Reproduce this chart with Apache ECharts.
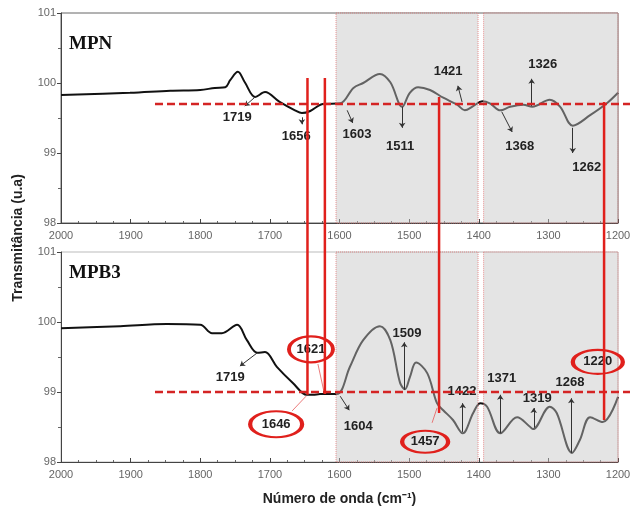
<!DOCTYPE html>
<html>
<head>
<meta charset="utf-8">
<script src="https://cdn.jsdelivr.net/npm/echarts@6/dist/echarts.min.js"></script>
<style>
  html, body { margin: 0; padding: 0; background: #fff; }
  #chart { width: 630px; height: 508px; }
</style>
</head>
<body>
<div id="chart"></div>
<script>
// spectra (wavenumber cm-1, transmittance u.a)
const mpnWavenumber = [2000, 1901, 1843, 1800, 1779, 1764, 1757, 1746, 1736, 1721, 1707, 1686, 1664, 1654, 1642, 1631, 1624, 1599, 1580, 1566, 1542, 1527, 1510, 1499, 1487, 1470, 1451, 1431, 1420, 1408, 1395, 1384, 1369, 1355, 1336, 1323, 1298, 1283, 1265, 1240, 1216, 1200]
const mpnTransmittance = [99.83, 99.86, 99.89, 99.90, 99.93, 99.94, 100.04, 100.16, 100.01, 99.80, 99.87, 99.73, 99.61, 99.57, 99.60, 99.67, 99.70, 99.71, 99.93, 100.00, 100.13, 100.01, 99.66, 99.86, 99.94, 99.90, 99.79, 99.69, 99.61, 99.67, 99.74, 99.71, 99.61, 99.66, 99.69, 99.66, 99.76, 99.66, 99.39, 99.54, 99.71, 99.86]

const mpb3Wavenumber = [2000, 1915, 1848, 1800, 1783, 1769, 1747, 1733, 1718, 1707, 1690, 1667, 1647, 1638, 1628, 1604, 1585, 1566, 1542, 1527, 1513, 1506, 1499, 1490, 1474, 1460, 1451, 1437, 1423, 1408, 1398, 1388, 1369, 1345, 1326, 1322, 1298, 1288, 1266, 1255, 1240, 1222, 1200]
const mpb3Transmittance = [99.91, 99.94, 99.97, 99.96, 99.84, 99.84, 99.96, 99.74, 99.56, 99.57, 99.36, 99.13, 98.96, 98.96, 98.97, 98.97, 99.36, 99.74, 99.94, 99.74, 99.13, 99.04, 99.21, 99.42, 99.27, 98.84, 98.74, 98.60, 98.41, 98.70, 98.84, 98.79, 98.41, 98.64, 98.50, 98.47, 98.79, 98.70, 98.13, 98.31, 98.64, 98.57, 98.93]

// axis ranges
const xMin = 1200, xMax = 2000, xStep = 100
const yMin = 98, yMax = 101, yStep = 1

// shaded bands and reference lines
const shadedBands = [[1605, 1401], [1393, 1200]]
const dashLevels = [99.7, 99.0]
const dashStart = 1865
const redLineWavenumber = [1646, 1621, 1457, 1220]
const redLineTop = [100.07, 100.07, 99.80, 99.73]      // in MPN panel
const redLineBottom = [98.96, 98.97, 98.70, 98.60]     // in MPB3 panel

// peak annotations: label text, label anchor, arrow from curve to label
const mpnPeakLabels = ['1719', '1656', '1603', '1511', '1421', '1368', '1326', '1262']
const mpnLabelPos = [[1747, 99.51], [1662, 99.23], [1575, 99.27], [1513, 99.10], [1444, 100.17], [1341, 99.10], [1308, 100.26], [1245, 98.80]]
const mpnArrows = [
  [[1720, 99.81], [1736, 99.67]], [[1654, 99.51], [1654, 99.41]], [[1589, 99.61], [1581, 99.43]], [[1510, 99.66], [1510, 99.36]],
  [[1424, 99.73], [1430, 99.96]], [[1367, 99.59], [1352, 99.30]], [[1324, 99.67], [1324, 100.06]], [[1265, 99.36], [1265, 99.00]]
]

const mpb3PeakLabels = ['1719', '1604', '1509', '1422', '1371', '1319', '1268']
const mpb3LabelPos = [[1757, 99.21], [1573, 98.51], [1503, 99.84], [1424, 99.01], [1367, 99.20], [1316, 98.91], [1269, 99.13]]
const mpb3Arrows = [
  [[1718, 99.56], [1743, 99.37]], [[1599, 98.94], [1586, 98.74]], [[1507, 99.03], [1507, 99.71]], [[1423, 98.43], [1423, 98.84]],
  [[1369, 98.41], [1369, 98.96]], [[1321, 98.49], [1321, 98.77]], [[1267, 98.13], [1267, 98.91]]
]

const mpb3CircledLabels = ['1621', '1646', '1457', '1220']
const mpb3CircledPos = [[1641, 99.61], [1691, 98.54], [1477, 98.29], [1229, 99.43]]
const mpb3Connectors = [
  [[1622, 98.99], [1631, 99.40]], [[1648, 98.94], [1668, 98.73]], [[1460, 98.77], [1467, 98.56]], [[1221, 98.60], [1221, 99.27]]
]
const ellipseSize = [[44, 26], [52, 26], [46, 22], [50, 24]]

const RED = '#e0201c'
const FONT = '"Liberation Sans", Arial, sans-serif'

const chart = echarts.init(document.getElementById('chart'))

function xAxis(gridIndex, withName) {
  return {
    type: 'value', gridIndex, inverse: true,
    min: xMin, max: xMax, interval: xStep,
    name: withName ? 'Número de onda (cm⁻¹)' : '',
    nameLocation: 'middle', nameGap: 30,
    nameTextStyle: { color: '#222', fontSize: 14, fontWeight: 'bold', fontFamily: FONT },
    axisLine: { lineStyle: { color: '#444', width: 1 } },
    axisTick: { inside: true, length: 4, lineStyle: { color: '#444' } },
    minorTick: { show: true, splitNumber: 4, length: 2, lineStyle: { color: '#666' } },
    axisLabel: { color: '#666', fontSize: 11, fontFamily: FONT, margin: 7, formatter: v => String(v) },
    splitLine: { show: false }
  }
}

function yAxis(gridIndex) {
  return {
    type: 'value', gridIndex,
    min: yMin, max: yMax, interval: yStep,
    axisLine: { show: true, lineStyle: { color: '#444', width: 1 } },
    axisTick: { show: true, length: 4, lineStyle: { color: '#444' } },
    minorTick: { show: true, splitNumber: 2, length: 3, lineStyle: { color: '#666' } },
    axisLabel: { color: '#666', fontSize: 11, fontFamily: FONT, margin: 5 },
    splitLine: { show: false }
  }
}

function spectrum(i, wn, vals) {
  return {
    type: 'line', xAxisIndex: i, yAxisIndex: i, z: 0,
    data: wn.map((w, k) => [w, vals[k]]),
    showSymbol: false, smooth: 0.35,
    lineStyle: { color: '#111', width: 2 }
  }
}

function bands(i) {
  return {
    type: 'line', xAxisIndex: i, yAxisIndex: i, data: [],
    markArea: {
      silent: true,
      itemStyle: {
        color: 'rgba(196,196,196,0.46)',
        borderColor: 'rgba(225,110,110,0.75)', borderWidth: 1, borderType: 'dotted'
      },
      data: shadedBands.map(b => [{ xAxis: b[0], yAxis: yMax }, { xAxis: b[1], yAxis: yMin }])
    }
  }
}

function peakLabels(i, labels, pos, arrows) {
  return {
    type: 'line', xAxisIndex: i, yAxisIndex: i, data: [],
    markLine: {
      silent: true, symbol: ['none', 'arrow'], symbolSize: 5,
      lineStyle: { color: '#333', width: 1, type: 'solid' },
      label: { show: false },
      data: arrows.map(a => [{ coord: a[0] }, { coord: a[1] }])
    },
    markPoint: {
      silent: true, symbol: 'circle', symbolSize: 0,
      label: { show: true, position: 'inside', formatter: '{b}', color: '#222', fontSize: 13, fontWeight: 'bold', fontFamily: FONT },
      data: labels.map((t, k) => ({ name: t, coord: pos[k] }))
    }
  }
}

function circledLabels(i) {
  return {
    type: 'line', xAxisIndex: i, yAxisIndex: i, data: [],
    markLine: {
      silent: true, symbol: 'none',
      lineStyle: { color: 'rgba(230,90,90,0.8)', width: 1, type: 'solid' },
      label: { show: false },
      data: mpb3Connectors.map(a => [{ coord: a[0] }, { coord: a[1] }])
    },
    markPoint: {
      silent: true, symbol: 'circle',
      itemStyle: { color: 'rgba(0,0,0,0)', borderColor: RED, borderWidth: 3 },
      label: { show: true, position: 'inside', formatter: '{b}', color: '#222', fontSize: 13, fontWeight: 'bold', fontFamily: FONT },
      data: mpb3CircledLabels.map((t, k) => ({ name: t, coord: mpb3CircledPos[k], symbolSize: ellipseSize[k] }))
    }
  }
}

chart.setOption({
  animation: false,
  grid: [
    { left: 61, right: 12, top: 13, height: 210, outerBoundsMode: 'none', show: true, borderColor: '#666', borderWidth: 1 },
    { left: 61, right: 12, top: 252, height: 210, outerBoundsMode: 'none', show: true, borderColor: '#bbb', borderWidth: 1 }
  ],
  xAxis: [xAxis(0, false), xAxis(1, true)],
  yAxis: [yAxis(0), yAxis(1)],
  series: [
    spectrum(0, mpnWavenumber, mpnTransmittance),
    spectrum(1, mpb3Wavenumber, mpb3Transmittance),
    bands(0), bands(1),
    peakLabels(0, mpnPeakLabels, mpnLabelPos, mpnArrows),
    peakLabels(1, mpb3PeakLabels, mpb3LabelPos, mpb3Arrows),
    circledLabels(1)
  ]
})

// reference lines that cross panels or run past the plot edge
const graphic = []
dashLevels.forEach((lvl, i) => {
  const p = chart.convertToPixel({ gridIndex: i }, [dashStart, lvl])
  graphic.push({
    type: 'line', z: 100, silent: true,
    shape: { x1: p[0], y1: p[1], x2: 630, y2: p[1] },
    style: { stroke: '#d42424', lineWidth: 2.5, lineDash: [8, 4] }
  })
})
redLineWavenumber.forEach((w, k) => {
  const a = chart.convertToPixel({ gridIndex: 0 }, [w, redLineTop[k]])
  const b = chart.convertToPixel({ gridIndex: 1 }, [w, redLineBottom[k]])
  graphic.push({
    type: 'line', z: 101, silent: true,
    shape: { x1: a[0], y1: a[1], x2: b[0], y2: b[1] },
    style: { stroke: RED, lineWidth: 2.5 }
  })
})
graphic.push(
  { type: 'text', left: 69, top: 35, z: 100, style: { text: 'MPN', font: 'bold 19px "Liberation Serif", serif', fill: '#111' } },
  { type: 'text', left: 69, top: 264, z: 100, style: { text: 'MPB3', font: 'bold 19px "Liberation Serif", serif', fill: '#111' } },
  {
    type: 'text', x: 18, y: 238, rotation: Math.PI / 2, z: 100,
    style: { text: 'Transmitância (u.a)', font: 'bold 14px ' + FONT, fill: '#222', align: 'center', verticalAlign: 'middle' }
  }
)
chart.setOption({ graphic })
</script>
</body>
</html>
